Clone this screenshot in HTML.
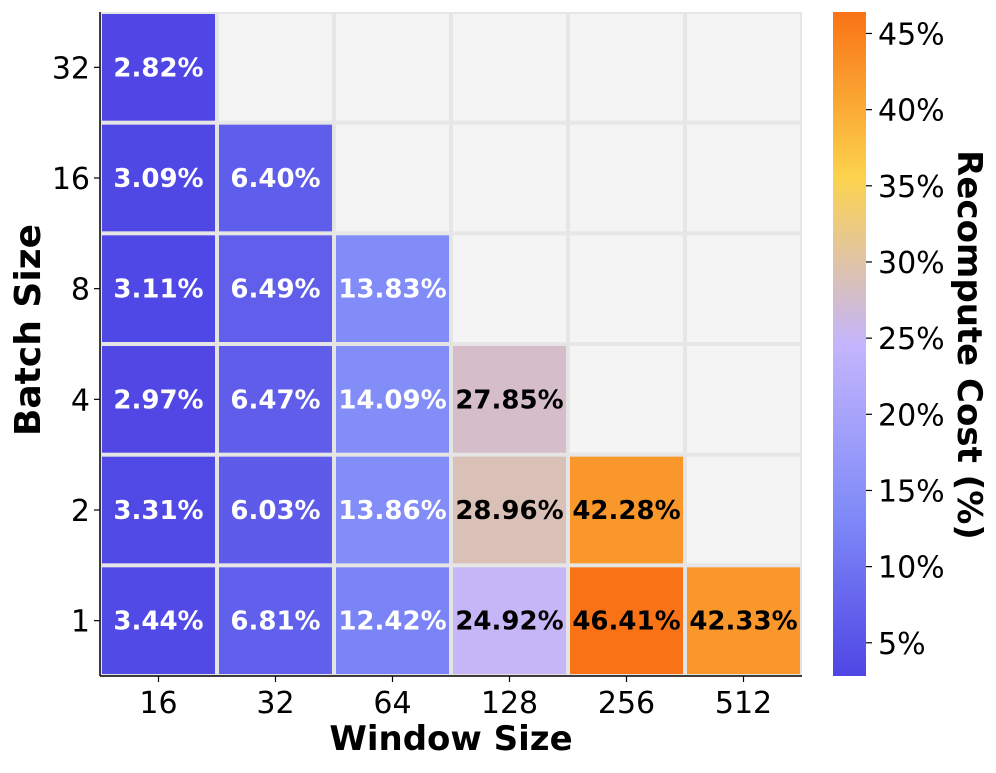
<!DOCTYPE html>
<html><head><meta charset="utf-8"><style>
body{margin:0;background:#fff;}
svg text{font-family:"DejaVu Sans","Liberation Sans",sans-serif;}
</style></head><body>
<svg id="chart" width="996" height="768" xmlns="http://www.w3.org/2000/svg">
<defs>
<linearGradient id="cbgrad" x1="0" y1="1" x2="0" y2="0">
<stop offset="0" stop-color="#4f46e5"/><stop offset="0.25" stop-color="#818cf8"/>
<stop offset="0.5" stop-color="#c4b5fd"/><stop offset="0.75" stop-color="#fcd34d"/>
<stop offset="1" stop-color="#f97316"/></linearGradient>
</defs>
<g id="cells"></g>
<g id="axes"></g>
</svg>
<script>
const windowSizes=["16","32","64","128","256","512"];
const batchSizes=["32","16","8","4","2","1"];
const row32=[2.82,null,null,null,null,null];
const row16=[3.09,6.40,null,null,null,null];
const row8=[3.11,6.49,13.83,null,null,null];
const row4=[2.97,6.47,14.09,27.85,null,null];
const row2=[3.31,6.03,13.86,28.96,42.28,null];
const row1=[3.44,6.81,12.42,24.92,46.41,42.33];
const cbTicks=[5,10,15,20,25,30,35,40,45];
const vmin=2.82,vmax=46.41;

const rows=[row32,row16,row8,row4,row2,row1];
const NS="http://www.w3.org/2000/svg";
const X0=100,X1=802,Y0=12,Y1=676;
const cw=(X1-X0)/windowSizes.length, ch=(Y1-Y0)/batchSizes.length;
const xPos=i=>X0+i*cw, yPos=j=>Y0+j*ch;
const stops=[[0,[0x4f,0x46,0xe5]],[0.25,[0x81,0x8c,0xf8]],[0.5,[0xc4,0xb5,0xfd]],[0.75,[0xfc,0xd3,0x4d]],[1,[0xf9,0x73,0x16]]];
function color(v){let t=Math.max(0,Math.min(1,(v-vmin)/(vmax-vmin)));
for(let k=0;k<stops.length-1;k++){const a=stops[k],b=stops[k+1];if(t<=b[0]){const f=(t-a[0])/(b[0]-a[0]);
return "rgb("+a[1].map((c,i)=>Math.round(c+(b[1][i]-c)*f)).join(",")+")";}}return "#f97316";}
function el(tag,attrs,parent){const e=document.createElementNS(NS,tag);for(const k in attrs)e.setAttribute(k,attrs[k]);parent.appendChild(e);return e;}
const cells=document.getElementById('cells'),axes=document.getElementById('axes');
rows.forEach((r,j)=>r.forEach((v,i)=>{
 const rect=el('rect',{x:xPos(i)+1,y:yPos(j)+1,width:cw-2,height:ch-2,fill:v==null?'#f4f4f4':color(v),stroke:v==null?'#e6e6e6':'#e4e4e4','stroke-width':2},cells);
 
 
 if(v!=null){const t=el('text',{x:xPos(i)+cw/2,y:yPos(j)+ch/2+9,'text-anchor':'middle','font-size':26,'font-weight':'bold',fill:v<20?'#fff':'#000'},cells);
 t.textContent=v.toFixed(2)+'%';
 
 }
}));
el('line',{x1:X0,y1:Y0,x2:X0,y2:Y1,stroke:'#000','stroke-width':1.5},axes);
el('line',{x1:X0,y1:Y1,x2:X1,y2:Y1,stroke:'#000','stroke-width':1.5},axes);
windowSizes.forEach((w,i)=>{const x=xPos(i)+cw/2;el('line',{x1:x,y1:Y1,x2:x,y2:Y1+6,stroke:'#000','stroke-width':1.2},axes);
 const t=el('text',{x:x,y:713,'text-anchor':'middle','font-size':30},axes);t.textContent=w;
 
 });
batchSizes.forEach((b,j)=>{const y=yPos(j)+ch/2;el('line',{x1:X0-6,y1:y,x2:X0,y2:y,stroke:'#000','stroke-width':1.2},axes);
 const t=el('text',{x:X0-10,y:y+11,'text-anchor':'end','font-size':30},axes);t.textContent=b;
 
 });
let xt=el('text',{x:451,y:750,'text-anchor':'middle','font-size':34,'font-weight':'bold'},axes);xt.textContent='Window Size';


let yt=el('text',{x:0,y:0,'text-anchor':'middle','font-size':36,'font-weight':'bold',transform:'translate(40,330) rotate(-90)'},axes);yt.textContent='Batch Size';


const CX=833,CW=33;const cy=v=>Y1-(v-vmin)/(vmax-vmin)*(Y1-Y0);
const cb=el('rect',{x:CX,y:Y0,width:CW,height:Y1-Y0,fill:'url(#cbgrad)'},axes);


cbTicks.forEach(v=>{const y=cy(v);el('line',{x1:CX+CW,y1:y,x2:CX+CW+6,y2:y,stroke:'#000','stroke-width':1.2},axes);
 const t=el('text',{x:878,y:y+11,'font-size':30},axes);t.textContent=v+'%';
 
 });
let ct=el('text',{x:0,y:0,'text-anchor':'middle','font-size':34,'font-weight':'bold',transform:'translate(958,345) rotate(90)'},axes);ct.textContent='Recompute Cost (%)';


</script>
</body></html>
